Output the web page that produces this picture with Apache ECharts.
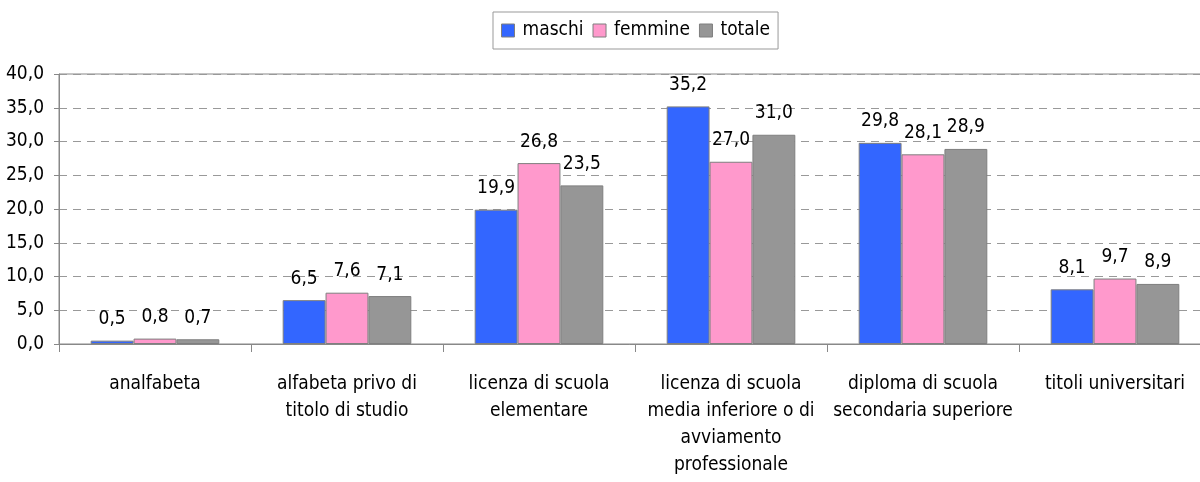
<!DOCTYPE html>
<html>
<head>
<meta charset="utf-8">
<script src="https://cdn.jsdelivr.net/npm/echarts@6/dist/echarts.min.js"></script>
<style>
    html, body { margin: 0; padding: 0; background: #fff; }
    #chart { width: 1200px; height: 482px; }
</style>
</head>
<body>
<div id="chart"></div>
<script>
// categorie (livello di istruzione)
const categorie = [
    'analfabeta',
    'alfabeta privo di\ntitolo di studio',
    'licenza di scuola\nelementare',
    'licenza di scuola\nmedia inferiore o di\navviamento\nprofessionale',
    'diploma di scuola\nsecondaria superiore',
    'titoli universitari'
];

const maschi = [0.5, 6.5, 19.9, 35.2, 29.8, 8.1];
const femmine = [0.8, 7.6, 26.8, 27.0, 28.1, 9.7];
const totale = [0.7, 7.1, 23.5, 31.0, 28.9, 8.9];

const FONT = '"Liberation Sans Narrow", "DejaVu Sans Condensed", "Liberation Sans", sans-serif';
const GRIGIO = '#888888';

const virgola = v => Number(v).toFixed(1).replace('.', ',');

const chart = echarts.init(document.getElementById('chart'));

function serie(nome, dati, colore) {
    return {
        name: nome,
        type: 'bar',
        data: dati,
        barGap: '0%',
        barCategoryGap: '33%',
        itemStyle: { color: colore, borderColor: '#7f7f7f', borderWidth: 1 },
        label: {
            show: true,
            position: 'top',
            distance: 12,
            color: '#000',
            fontFamily: FONT,
            fontSize: 19,
            formatter: p => virgola(p.value)
        }
    };
}

chart.setOption({
    animation: false,
    legend: {
        top: 12,
        left: 493,
        data: ['maschi', 'femmine', 'totale'],
        borderColor: '#999',
        borderWidth: 1,
        padding: [9, 8, 9, 8],
        itemGap: 9,
        itemWidth: 13,
        itemHeight: 13,
        icon: 'rect',
        itemStyle: { borderColor: '#7f7f7f', borderWidth: 1 },
        textStyle: { fontFamily: FONT, fontSize: 19, color: '#000', padding: [0, 0, 0, 3] }
    },
    grid: {
        left: 59,
        top: 74,
        width: 1152,
        height: 270,
        show: true,
        borderColor: GRIGIO,
        borderWidth: 1,
        outerBoundsMode: 'none'
    },
    xAxis: {
        type: 'category',
        data: categorie,
        axisLine: { lineStyle: { color: GRIGIO, width: 1 } },
        axisTick: { show: true, length: 8, lineStyle: { color: GRIGIO } },
        axisLabel: {
            interval: 0,
            margin: 27,
            lineHeight: 27,
            color: '#000',
            fontFamily: FONT,
            fontSize: 19
        }
    },
    yAxis: {
        type: 'value',
        min: 0,
        max: 40,
        interval: 5,
        axisLine: { show: true, lineStyle: { color: GRIGIO, width: 1 } },
        axisTick: { show: true, length: 5, lineStyle: { color: GRIGIO } },
        axisLabel: {
            margin: 15,
            color: '#000',
            fontFamily: FONT,
            fontSize: 19,
            formatter: v => virgola(v)
        },
        splitLine: { lineStyle: { color: '#999999', type: [8, 6] } }
    },
    series: [
        serie('maschi', maschi, '#3366FF'),
        serie('femmine', femmine, '#FF99CC'),
        serie('totale', totale, '#969696')
    ]
});
</script>
</body>
</html>
